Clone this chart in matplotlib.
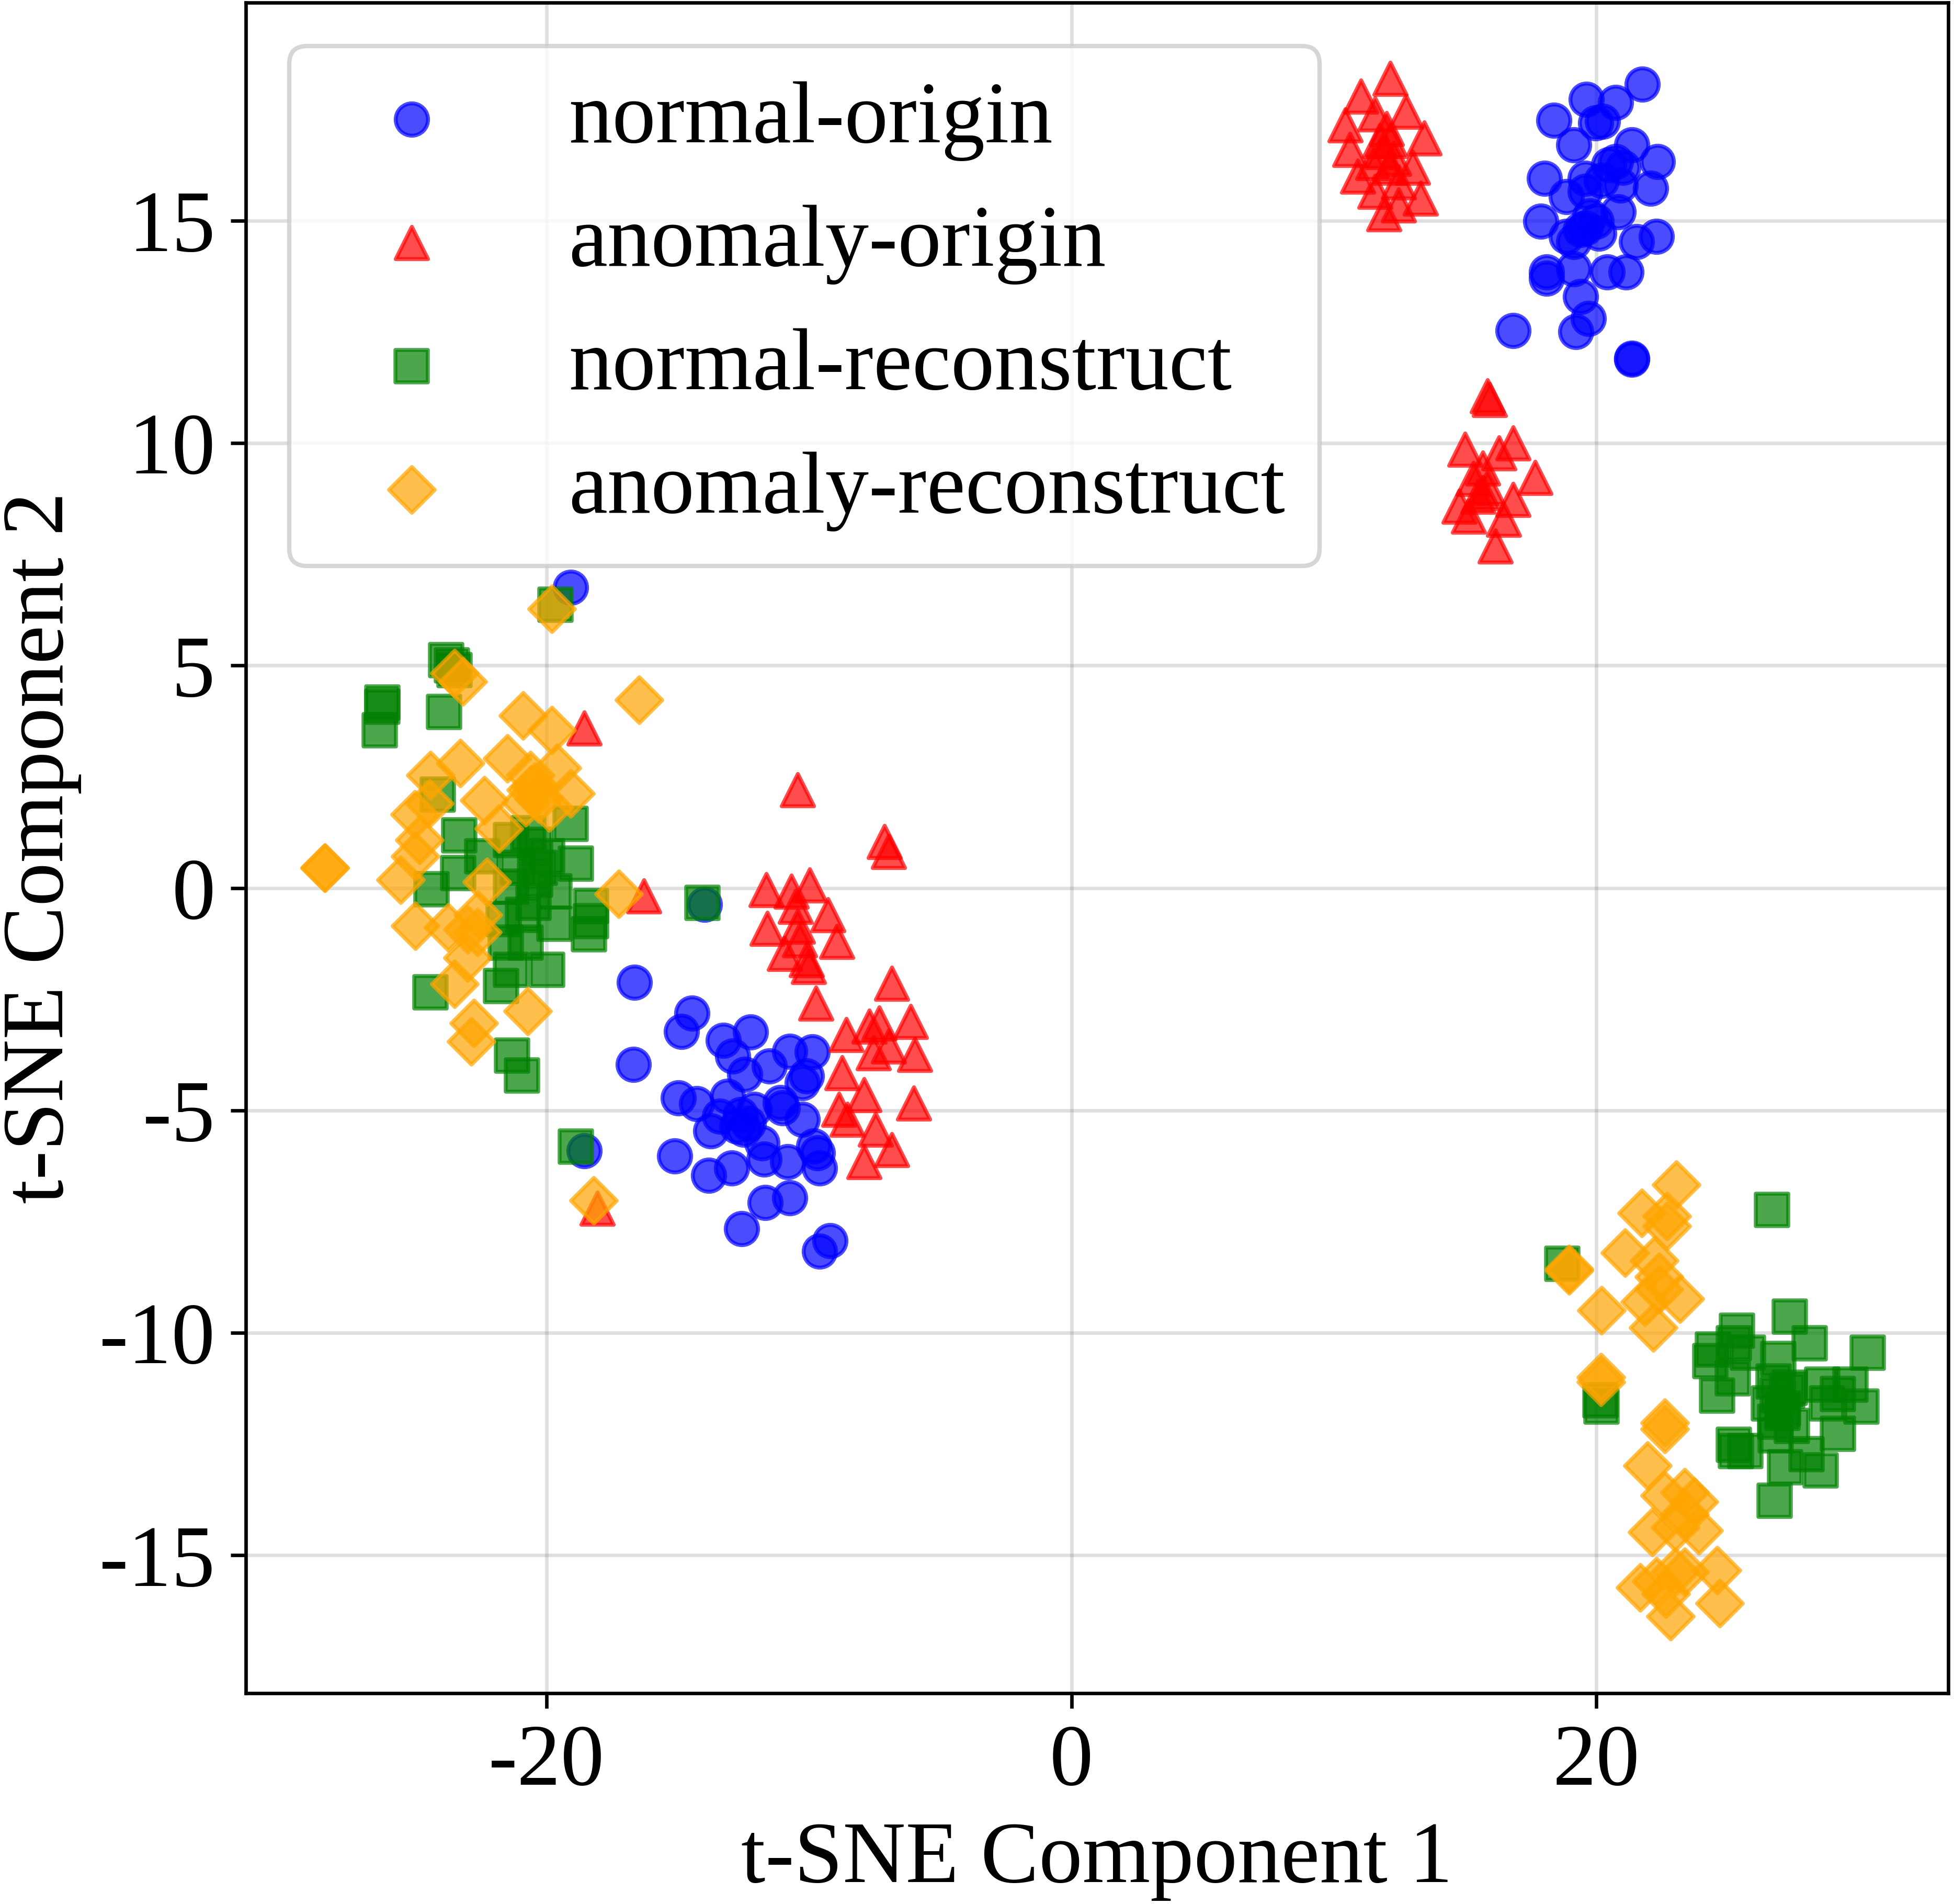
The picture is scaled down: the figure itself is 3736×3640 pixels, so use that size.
import matplotlib
matplotlib.use('Agg')
import matplotlib.pyplot as plt

plt.rcParams['font.family'] = 'serif'
plt.rcParams['font.serif'] = ['Liberation Serif', 'DejaVu Serif']
plt.rcParams['axes.unicode_minus'] = False

# normal-origin
no_x = [21.75, 19.62, 20.73, 18.37, 19.97, 20.24, 19.13, 21.35, 22.33, 20.73, 18.02, 19.57, 22.06,
        18.86, 19.57, 20.9, 20.82, 17.88, 19.57, 18.86, 20.1, 21.53, 22.28, 19.13, 18.1, 18.1, 19.13,
        20.42, 21.13, 19.4, 19.7, 19.22, 16.82, 21.35, 21.35, 20.0, 20.46, 19.75, 19.4, 20.2, 21.0,
        -16.64, -16.68, -14.45, -14.85, -13.26, -12.22, -12.91, -12.45, -11.5, -10.72, -9.87, -10.1,
        -10.26, -14.97, -14.27, -13.11, -12.08, -11.0, -10.26, -13.73, -12.74, -12.49, -11.79, -9.81,
        -9.68, -15.11, -13.81, -12.95, -11.71, -10.8, -9.6, -11.67, -10.72, -12.57, -9.19, -9.6,
        -13.4, -11.09, -12.6, -12.3, -13.98, -18.56, -19.07]
no_y = [18.06, 17.72, 17.65, 17.26, 17.2, 17.23, 16.7, 16.7, 16.33, 16.33, 15.95, 15.95, 15.73,
        15.54, 15.65, 15.8, 15.2, 14.98, 14.83, 14.64, 14.71, 14.53, 14.64, 14.53, 13.85, 13.7, 13.92,
        13.85, 13.85, 13.29, 12.8, 12.5, 12.53, 11.9, 11.88, 14.98, 16.25, 15.1, 14.8, 15.9, 16.2,
        -2.12, -3.97, -2.81, -3.23, -3.43, -3.24, -3.78, -4.19, -4.0, -3.67, -3.69, -4.23,
        -4.38, -4.72, -4.85, -4.68, -4.98, -4.94, -5.2, -5.46, -5.35, -5.43, -5.73, -5.8,
        -5.95, -6.03, -6.46, -6.29, -6.1, -6.16, -6.29, -7.07, -6.96, -7.66, -7.93, -8.16,
        -5.13, -4.83, -5.1, -5.3, -0.37, -5.91, 6.76]

# anomaly-origin
ao_x = [12.15, 11.02, 10.42, 10.6, 13.44, 12.73, 11.57, 12.0, 12.15, 10.9, 13.3, 11.9, 12.46, 11.48,
        13.0, 11.57, 12.28, 11.84, 12.46, 12.1, 11.75,
        15.84, 15.93, 16.82, 16.28, 15.0, 17.66, 15.66, 15.3, 16.82, 14.77, 15.66, 16.46, 15.13, 16.15,
        15.48, 15.84,
        -18.56, -16.28, -18.06,
        -10.43, -7.12, -6.96, -11.63, -10.68, -9.97, -9.27, -11.58, -10.51, -10.43, -8.94, -10.92,
        -10.35, -10.1, -10.01, -9.73, -6.84, -8.57, -7.7, -7.33, -6.13, -5.97, -7.54, -6.96, -8.73,
        -7.91, -8.86, -8.53, -6.01, -7.46, -6.84, -7.91]
ao_y = [18.2, 17.8, 17.15, 16.6, 16.85, 17.45, 17.4, 17.07, 16.8, 16.0, 15.5, 15.15, 15.35, 16.3,
        16.2, 15.65, 16.4, 16.55, 15.87, 16.2, 16.8,
        11.06, 10.98, 10.0, 9.78, 9.86, 9.22, 9.44, 9.2, 8.73, 8.58, 8.88, 8.28, 8.35, 7.68,
        8.8, 9.0,
        3.59, -0.18, -7.2,
        2.2, 1.04, 0.82, -0.04, -0.08, 0.07, -0.61, -0.91, -0.42, -0.86, -1.2, -1.47,
        -1.17, -1.62, -1.77, -2.59, -2.14, -3.3, -3.11, -3.04, -3.0, -3.75, -3.71, -3.56, -4.16,
        -4.65, -4.98, -5.2, -4.84, -5.43, -5.88, -6.15]

# normal-reconstruct
nr_x = [-19.66, -23.82, -23.6, -23.5, -26.25, -26.25, -26.34, -23.9, -24.14, -23.32, -22.45, -21.35,
        -19.07, -18.88, -20.7, -20.26, -23.37, -24.37, -21.35, -19.7, -18.3, -20.5, -20.9, -20.44,
        -19.98, -21.08, -20.44, -21.63, -19.7, -18.3, -18.38, -21.54, -20.8, -21.35, -19.98, -21.72,
        -24.42, -21.31, -20.94, -18.88, -14.06,
        26.69, 18.69, 20.16, 20.2, 27.36, 28.12, 30.34, 25.36, 24.43, 24.34, 25.23, 25.76, 26.92,
        24.6, 25.2, 26.74, 27.36, 28.6, 29.67, 29.2, 30.1, 28.78, 27.09, 26.56, 27.45, 25.23, 25.32,
        25.67, 29.2, 28.0, 28.53, 27.18, 26.78, 26.83, 27.27, 26.9, 27.1, 26.8]
nr_y = [6.37, 5.12, 5.0, 4.9, 4.17, 4.07, 3.54, 3.96, 2.1, 1.18, 0.71, 1.08,
        1.44, 0.55, 1.23, 0.45, 0.34, -0.03, 0.03, -0.08, -0.4, -0.34, -0.6, 0.97,
        0.71, 0.45, 0.18, -0.7, -0.8, -0.75, -1.04, -1.23, -1.23, -1.84, -1.84, -2.2,
        -2.35, -3.77, -4.21, -5.81, -0.34,
        -7.24, -8.45, -11.52, -11.66, -9.63, -10.24, -10.45, -9.95, -10.38, -10.63, -10.24, -10.45,
        -10.59, -11.41, -11.02, -11.09, -11.23, -11.16, -11.16, -11.38, -11.66, -11.59, -11.8,
        -11.59, -12.09, -12.52, -12.66, -12.66, -12.27, -12.73, -13.09, -13.02, -13.77, -12.3,
        -11.3, -11.4, -11.7, -12.0]

# anomaly-reconstruct
ar_x = [-19.8, -23.5, -23.18, -16.46, -20.9, -19.8, -19.6, -24.42, -23.28, -21.49, -20.62, -20.44,
        -19.07, -22.36, -25.01, -24.46, -24.83, -21.81, -19.89, -20.8, -20.3, -20.6, -28.44, -28.44,
        -25.56, -25.0, -22.27, -17.24, -22.6, -25.0, -23.73, -23.0, -22.63, -23.0, -23.5, -22.77,
        -22.86, -20.71, -18.2,
        23.03, 21.72, 22.69, 22.69, 18.96, 18.96, 21.09, 22.2, 22.38, 22.38, 23.18, 20.2, 21.85,
        22.16, 20.18, 20.18, 22.6, 22.6, 21.94, 22.6, 23.36, 23.72, 23.0, 22.12, 23.89, 23.36,
        24.6, 23.36, 21.67, 22.29, 22.83, 24.7, 23.0, 22.65]
ar_y = [6.27, 4.83, 4.64, 4.23, 3.88, 3.54, 2.7, 2.54, 2.8, 2.91, 2.54, 2.28,
        2.12, 1.97, 1.65, 1.9, 1.08, 1.34, 1.81, 1.92, 2.0, 2.2, 0.45, 0.45,
        0.18, 0.71, 0.13, -0.13, -0.6, -0.85, -0.89, -0.94, -0.99, -1.57, -2.16, -3.04,
        -3.45, -2.77, -7.03,
        -6.67, -7.31, -7.38, -7.6, -8.56, -8.6, -8.2, -8.38, -8.74, -9.02, -9.24, -9.49, -9.31,
        -9.88, -11.0, -11.1, -12.02, -12.16, -12.98, -13.66, -13.59, -13.8, -14.37, -14.48, -14.44,
        -14.08, -15.34, -15.37, -15.73, -15.58, -16.37, -16.08, -15.37, -15.87]

fig = plt.figure(figsize=(3736 / 600, 3640 / 600))
fig.subplots_adjust(left=470 / 3736, right=3725 / 3736, bottom=1 - 3237 / 3640, top=1 - 5 / 3640)
ax = fig.add_subplot(111)

ax.scatter(no_x, no_y, s=55, c='blue', marker='o', alpha=0.7, linewidths=0.9, label='normal-origin')
ax.scatter(ao_x, ao_y, s=55, c='red', marker='^', alpha=0.7, linewidths=0.9, label='anomaly-origin')
ax.scatter(nr_x, nr_y, s=55, c='green', marker='s', alpha=0.7, linewidths=0.9, label='normal-reconstruct')
ax.scatter(ar_x, ar_y, s=55, c='orange', marker='D', alpha=0.7, linewidths=0.9, label='anomaly-reconstruct')

ax.set_xlim(-31.45, 33.4)
ax.set_ylim(-18.1, 19.9)
ax.set_xticks([-20, 0, 20])
ax.set_yticks([-15, -10, -5, 0, 5, 10, 15])
ax.tick_params(labelsize=20)
ax.grid(True, color='gray', alpha=0.25, linewidth=0.8)
ax.set_axisbelow(True)

ax.set_xlabel('t-SNE Component 1', fontsize=20)
ax.set_ylabel('t-SNE Component 2', fontsize=20)
ax.legend(fontsize=20, loc='upper left')

plt.savefig('out.png', dpi=600)
